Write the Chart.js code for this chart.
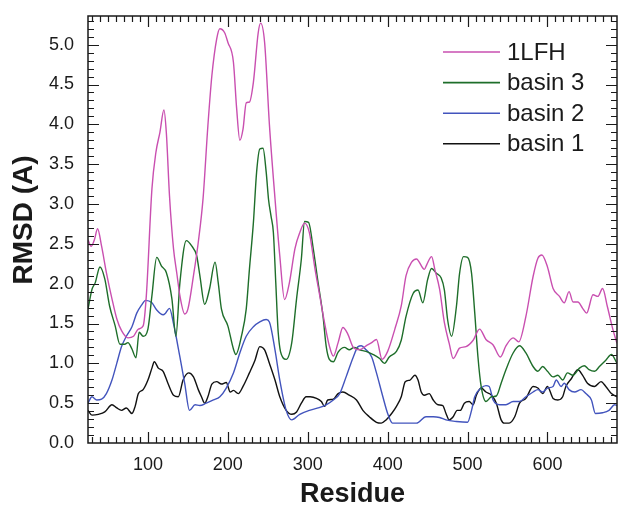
<!DOCTYPE html>
<html>
<head>
<meta charset="utf-8">
<script src="https://cdn.jsdelivr.net/npm/chart.js@4.4.1/dist/chart.umd.min.js"></script>
<style>
  html, body { margin: 0; padding: 0; background: #fff; }
  #chart { display: block; }
</style>
</head>
<body>
<canvas id="chart" width="618" height="505"></canvas>
<script>
// residue numbers / RMSD values
const lfhRes = [25, 29, 33, 37, 42, 48, 55, 61, 67, 75, 82, 88, 94, 98, 105, 110, 115, 120, 123, 127, 132, 136, 140, 146, 150, 157, 163, 169, 175, 180, 186, 190, 196, 200, 207, 211, 215, 219, 223, 227, 232, 238, 241, 246, 252, 259, 265, 271, 277, 284, 290, 296, 302, 309, 315, 321, 327, 332, 338, 344, 350, 357, 365, 373, 380, 386, 393, 400, 409, 417, 423, 430, 436, 446, 449, 455, 459, 465, 471, 477, 482, 490, 498, 507, 515, 523, 532, 541, 548, 557, 564, 573, 582, 588, 593, 600, 607, 615, 621, 627, 632, 638, 644, 649, 657, 663, 669, 675, 682, 687];
const lfhRmsd = [2.55, 2.47, 2.55, 2.69, 2.47, 2.14, 1.81, 1.56, 1.41, 1.32, 1.34, 1.43, 1.47, 1.85, 3.19, 3.65, 3.90, 4.18, 3.90, 3.10, 2.44, 2.14, 1.85, 1.62, 1.68, 2.10, 2.52, 3.07, 3.98, 4.61, 5.07, 5.20, 5.15, 5.03, 4.78, 4.20, 3.80, 3.94, 4.27, 4.28, 4.53, 5.15, 5.27, 5.03, 4.00, 3.07, 2.35, 1.80, 2.01, 2.44, 2.64, 2.76, 2.64, 2.19, 1.85, 1.51, 1.22, 1.09, 1.26, 1.45, 1.37, 1.20, 1.17, 1.22, 1.26, 1.30, 1.05, 1.15, 1.43, 1.72, 2.10, 2.27, 2.31, 2.18, 2.24, 2.34, 2.18, 1.93, 1.51, 1.25, 1.06, 1.19, 1.21, 1.29, 1.43, 1.30, 1.23, 1.08, 1.22, 1.32, 1.27, 1.59, 2.09, 2.32, 2.36, 2.21, 1.94, 1.84, 1.76, 1.90, 1.77, 1.77, 1.69, 1.63, 1.86, 1.84, 1.94, 1.71, 1.42, 1.25];

const basin3Res = [25, 30, 34, 40, 46, 52, 59, 65, 71, 75, 80, 85, 89, 94, 100, 105, 111, 117, 123, 130, 135, 140, 148, 155, 161, 165, 171, 177, 184, 188, 192, 200, 207, 210, 217, 223, 227, 232, 236, 240, 244, 248, 251, 254, 257, 260, 263, 269, 273, 280, 286, 292, 296, 301, 307, 313, 319, 323, 327, 332, 338, 346, 352, 358, 365, 373, 382, 390, 396, 402, 411, 417, 423, 432, 438, 444, 450, 455, 461, 467, 471, 475, 480, 486, 490, 495, 500, 505, 509, 513, 517, 523, 530, 536, 542, 548, 557, 565, 573, 582, 588, 594, 600, 607, 613, 619, 625, 632, 640, 646, 652, 659, 665, 673, 680, 687];
const basin3Rmsd = [1.68, 1.93, 2.01, 2.21, 2.06, 1.72, 1.47, 1.24, 1.24, 1.26, 1.18, 1.07, 1.39, 1.34, 1.43, 1.85, 2.33, 2.22, 2.14, 1.81, 1.34, 2.01, 2.54, 2.47, 2.35, 2.10, 1.74, 1.93, 2.27, 2.01, 1.68, 1.47, 1.18, 1.11, 1.34, 1.68, 2.18, 2.77, 3.40, 3.69, 3.70, 3.40, 3.05, 2.85, 2.64, 2.01, 1.39, 1.07, 1.05, 1.26, 1.81, 2.31, 2.78, 2.77, 2.43, 2.01, 1.60, 1.22, 1.05, 1.02, 1.14, 1.20, 1.17, 1.20, 1.17, 1.15, 1.11, 1.06, 1.00, 1.08, 1.15, 1.29, 1.59, 1.88, 1.92, 1.76, 2.05, 2.19, 2.13, 2.07, 1.92, 1.55, 1.34, 1.71, 2.13, 2.34, 2.33, 2.13, 1.63, 1.08, 0.71, 0.52, 0.58, 0.59, 0.75, 0.92, 1.13, 1.22, 1.13, 0.96, 0.90, 0.96, 0.90, 0.83, 0.85, 0.79, 0.88, 0.85, 0.94, 0.97, 0.92, 0.90, 0.96, 1.04, 1.11, 1.00];

const basin2Res = [25, 30, 36, 42, 48, 55, 61, 67, 73, 80, 86, 92, 97, 105, 111, 119, 122, 127, 132, 140, 146, 152, 159, 165, 173, 182, 190, 198, 207, 215, 223, 232, 240, 248, 252, 259, 265, 273, 280, 290, 302, 313, 323, 332, 340, 348, 357, 363, 367, 373, 380, 386, 394, 400, 406, 415, 427, 436, 448, 457, 465, 473, 486, 500, 505, 509, 517, 523, 527, 532, 540, 548, 557, 565, 573, 582, 588, 594, 600, 607, 611, 617, 621, 627, 634, 642, 648, 655, 660, 669, 677, 684, 687];
const basin2Rmsd = [0.50, 0.58, 0.54, 0.55, 0.62, 0.79, 1.00, 1.21, 1.34, 1.46, 1.63, 1.73, 1.79, 1.76, 1.67, 1.61, 1.63, 1.69, 1.50, 1.08, 0.75, 0.41, 0.48, 0.47, 0.50, 0.54, 0.58, 0.69, 0.88, 1.13, 1.34, 1.46, 1.52, 1.55, 1.52, 1.17, 0.79, 0.41, 0.29, 0.36, 0.41, 0.44, 0.48, 0.54, 0.62, 0.83, 1.08, 1.21, 1.22, 1.17, 1.08, 0.88, 0.58, 0.37, 0.25, 0.25, 0.25, 0.25, 0.33, 0.33, 0.32, 0.29, 0.27, 0.26, 0.41, 0.58, 0.69, 0.72, 0.71, 0.54, 0.48, 0.48, 0.52, 0.52, 0.58, 0.64, 0.67, 0.64, 0.69, 0.71, 0.79, 0.71, 0.75, 0.67, 0.64, 0.67, 0.62, 0.54, 0.37, 0.38, 0.41, 0.48, 0.47];

const basin1Res = [25, 30, 38, 46, 55, 61, 67, 73, 80, 84, 88, 94, 100, 105, 108, 113, 119, 125, 132, 138, 144, 151, 157, 163, 167, 171, 175, 180, 186, 192, 198, 203, 207, 213, 219, 227, 234, 240, 246, 252, 259, 265, 273, 280, 286, 292, 298, 303, 311, 317, 321, 325, 332, 338, 344, 352, 361, 369, 377, 386, 392, 398, 405, 411, 417, 422, 428, 434, 438, 442, 446, 452, 457, 463, 469, 473, 477, 482, 487, 491, 496, 502, 507, 511, 517, 523, 530, 536, 542, 546, 552, 559, 565, 573, 582, 588, 594, 600, 607, 613, 619, 623, 630, 638, 644, 650, 659, 667, 673, 680, 687];
const basin1Rmsd = [0.41, 0.35, 0.36, 0.39, 0.48, 0.44, 0.41, 0.44, 0.37, 0.46, 0.62, 0.67, 0.79, 0.94, 1.02, 0.94, 0.90, 0.75, 0.60, 0.58, 0.79, 0.88, 0.83, 0.67, 0.58, 0.50, 0.58, 0.74, 0.77, 0.74, 0.76, 0.64, 0.66, 0.62, 0.71, 0.88, 1.04, 1.21, 1.17, 1.00, 0.79, 0.58, 0.41, 0.36, 0.39, 0.50, 0.58, 0.58, 0.56, 0.52, 0.46, 0.54, 0.55, 0.62, 0.64, 0.60, 0.54, 0.41, 0.33, 0.26, 0.25, 0.29, 0.37, 0.46, 0.58, 0.77, 0.79, 0.85, 0.79, 0.64, 0.60, 0.62, 0.54, 0.48, 0.47, 0.37, 0.29, 0.33, 0.41, 0.41, 0.50, 0.52, 0.48, 0.60, 0.69, 0.64, 0.60, 0.50, 0.29, 0.25, 0.25, 0.33, 0.50, 0.56, 0.71, 0.69, 0.62, 0.71, 0.56, 0.54, 0.58, 0.71, 0.81, 0.92, 0.85, 0.75, 0.71, 0.77, 0.71, 0.62, 0.58];

const xTicks = [100, 200, 300, 400, 500, 600];
const yTicks = [0, 0.5, 1, 1.5, 2, 2.5, 3, 3.5, 4, 4.5, 5];

const FONT = "'Liberation Sans', Arial, sans-serif";
const INK = '#1a1a1a';

function toPoints(xs, ys) {
    return xs.map((x, i) => ({ x: x, y: ys[i] }));
}

function series(label, xs, ys, color) {
    return {
        label: label,
        data: toPoints(xs, ys),
        borderColor: color,
        borderWidth: 1.4,
        pointRadius: 0,
        fill: false,
        cubicInterpolationMode: 'monotone'
    };
}

// frame + inward ticks on all four sides, legend and y title
const frameAndLegend = {
    id: 'frameAndLegend',
    afterDraw(chart) {
        const { ctx, chartArea: a, scales: { x, y } } = chart;
        ctx.save();
        ctx.strokeStyle = INK;
        ctx.lineWidth = 1.5;
        ctx.strokeRect(a.left, a.top, a.right - a.left, a.bottom - a.top);

        ctx.lineWidth = 1.2;
        ctx.beginPath();
        for (let r = 30; r <= 680; r += 10) {
            const px = Math.round(x.getPixelForValue(r)) + 0.5;
            const len = r % 100 === 0 ? 11 : 6;
            ctx.moveTo(px, a.bottom); ctx.lineTo(px, a.bottom - len);
            ctx.moveTo(px, a.top); ctx.lineTo(px, a.top + len);
        }
        for (let i = 1; i <= 53; i++) {
            const py = Math.round(y.getPixelForValue(i / 10)) + 0.5;
            const len = i % 5 === 0 ? 11 : 6;
            ctx.moveTo(a.left, py); ctx.lineTo(a.left + len, py);
            ctx.moveTo(a.right, py); ctx.lineTo(a.right - len, py);
        }
        ctx.stroke();

        // legend
        ctx.font = '24px ' + FONT;
        ctx.textBaseline = 'middle';
        chart.data.datasets.forEach((ds, i) => {
            const ly = 52 + i * 30.6;
            ctx.strokeStyle = ds.borderColor;
            ctx.lineWidth = 1.6;
            ctx.beginPath();
            ctx.moveTo(443, ly); ctx.lineTo(500, ly);
            ctx.stroke();
            ctx.fillStyle = INK;
            ctx.fillText(ds.label, 507, ly + 1);
        });

        // y axis title
        ctx.translate(23, 220);
        ctx.rotate(-Math.PI / 2);
        ctx.textAlign = 'center';
        ctx.font = 'bold 28px ' + FONT;
        ctx.fillText('RMSD (A)', 0, 1);
        ctx.restore();
    }
};

new Chart(document.getElementById('chart'), {
    type: 'line',
    data: {
        datasets: [
            series('1LFH', lfhRes, lfhRmsd, '#c94fb0'),
            series('basin 3', basin3Res, basin3Rmsd, '#1e6e2a'),
            series('basin 2', basin2Res, basin2Rmsd, '#4254bd'),
            series('basin 1', basin1Res, basin1Rmsd, '#111111')
        ]
    },
    options: {
        responsive: false,
        animation: false,
        layout: { padding: { top: 16, right: 1, left: 0, bottom: 0 } },
        plugins: {
            legend: { display: false },
            tooltip: { enabled: false }
        },
        scales: {
            x: {
                type: 'linear',
                min: 25,
                max: 687,
                afterFit: s => { s.height = 62; s.paddingLeft = 0; s.paddingRight = 0; },
                afterBuildTicks: s => { s.ticks = xTicks.map(v => ({ value: v })); },
                ticks: { font: { family: FONT, size: 18 }, color: INK, padding: 11, maxRotation: 0 },
                grid: { display: false, drawTicks: false },
                border: { display: false },
                title: {
                    display: true,
                    text: 'Residue',
                    color: INK,
                    font: { family: FONT, size: 27, weight: 'bold', lineHeight: 0.8 },
                    padding: { top: 0, bottom: 0 }
                }
            },
            y: {
                min: 0,
                max: 5.36,
                afterFit: s => { s.width = 88; s.paddingTop = 0; s.paddingBottom = 0; },
                afterBuildTicks: s => { s.ticks = yTicks.map(v => ({ value: v })); },
                ticks: {
                    font: { family: FONT, size: 18 },
                    color: INK,
                    padding: 14,
                    callback: v => v.toFixed(1)
                },
                grid: { display: false, drawTicks: false },
                border: { display: false }
            }
        }
    },
    plugins: [frameAndLegend]
});
</script>
</body>
</html>
